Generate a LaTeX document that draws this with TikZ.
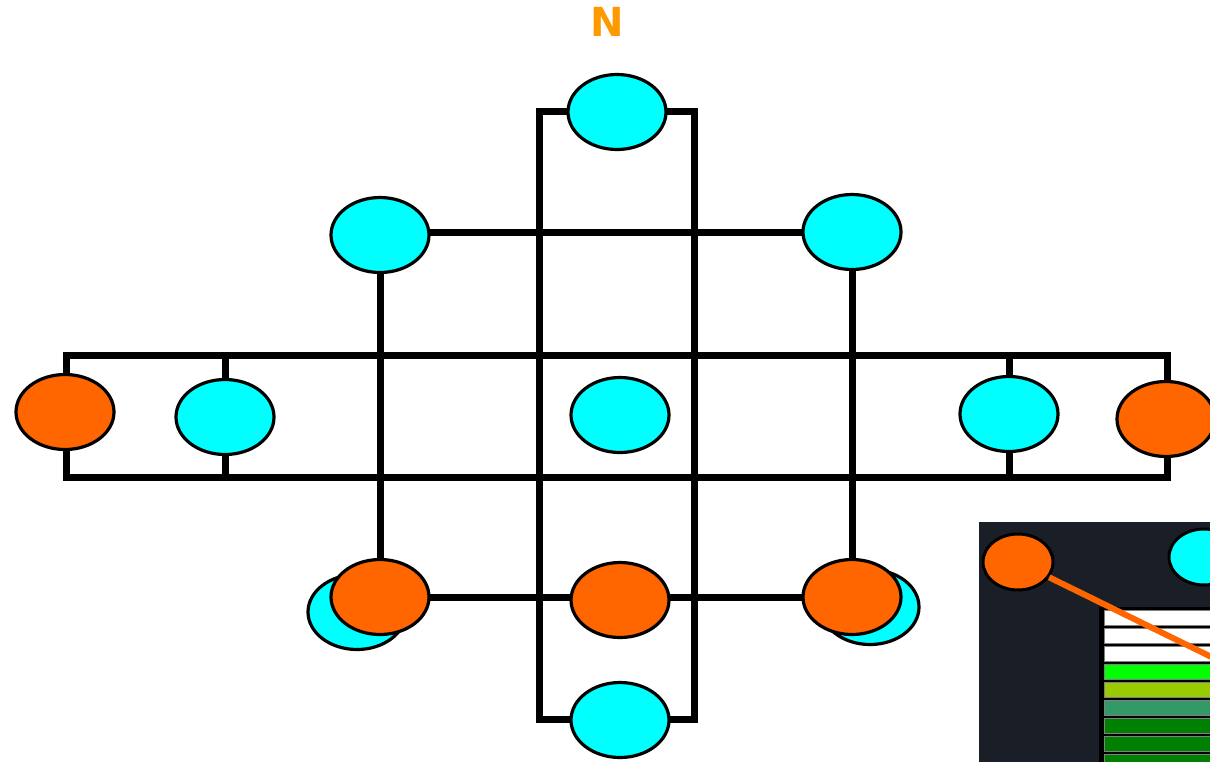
\documentclass[tikz,border=0pt]{standalone}
\usepackage{fontspec}
\setsansfont{DejaVu Sans}
\usetikzlibrary{shapes.geometric,backgrounds}
\definecolor{cy}{HTML}{00FFFF}
\definecolor{org}{HTML}{FF6600}
\definecolor{ntxt}{HTML}{FF9900}
\definecolor{inbg}{HTML}{1A1E26}
\definecolor{sgA}{HTML}{00FF00}
\definecolor{sgB}{HTML}{99CC00}
\definecolor{sgC}{HTML}{339966}
\definecolor{sgD}{HTML}{008000}
\begin{document}
\begin{tikzpicture}[x=1pt,y=-1pt,
  big/.style={ellipse, draw=black, line width=3.2pt, minimum width=98pt, minimum height=75pt, inner sep=0pt},
  cyanE/.style={big, fill=cy},
  orgE/.style={big, fill=org},
  smallE/.style={ellipse, draw=black, line width=3pt, minimum width=70pt, minimum height=56pt, inner sep=0pt},
  wire/.style={line width=7pt, draw=black},
  stripe/.style={line width=0.8pt, draw=gray}]
\useasboundingbox (0,0) rectangle (1210,761);
% label
\node[font=\sffamily\bfseries\fontsize{40}{40}\selectfont, text=ntxt] (N) at (607,22) {N};
% corner coordinates of loops
\coordinate (vtl) at (539,111);
\coordinate (vbr) at (694,719);
\coordinate (btl) at (66,355);
\coordinate (bbr) at (1167,477);
% ellipses
\node[cyanE] (T)   at (617,112) {};
\node[cyanE] (B)   at (620,720) {};
\node[cyanE] (UL)  at (380,235) {};
\node[cyanE] (UR)  at (852,232) {};
\node[cyanE] (C)   at (620,415) {};
\node[orgE]  (LO)  at (65,412) {};
\node[cyanE] (LC)  at (225,417) {};
\node[cyanE] (RC)  at (1009,414) {};
\node[orgE]  (RO)  at (1166,419) {};
\node[cyanE] (BLc) at (357,612) {};
\node[orgE]  (BLo) at (380,597) {};
\node[cyanE] (BRc) at (870,607) {};
\node[orgE]  (BRo) at (852,597) {};
\node[orgE]  (BCo) at (620,600) {};
% wires behind
\begin{scope}[on background layer]
  \draw[wire] (vtl) rectangle (vbr);
  \draw[wire] (btl) rectangle (bbr);
  \draw[wire] (btl -| LC.center) -- (bbr -| LC.center);
  \draw[wire] (btl -| RC.center) -- (bbr -| RC.center);
  \draw[wire] (UL.center |- UR.center) -- (UR.center);
  \draw[wire] (UL.center) -- (BLo.center);
  \draw[wire] (UR.center) -- (BRo.center);
  \draw[wire] (BLo.center) -- (BRo.center);
\end{scope}
% inset
\fill[inbg] (979,522) rectangle (1215,766);
\fill[black] (1099,607) rectangle (1215,766);
\foreach \i/\c in {0/white,1/white,2/white,3/sgA,4/sgB,5/sgC,6/sgD,7/sgD,8/sgD}{
  \filldraw[stripe, fill=\c] (1104.5,610+18*\i) rectangle (1216,625+18*\i);
}
\node[smallE, fill=org] (IO) at (1018,562) {};
\node[smallE, fill=cy] (IC) at (1204,557) {};
\coordinate (Iend) at (1240,671);
\draw[line width=6pt, draw=org] (IO) -- (Iend);
\end{tikzpicture}
\end{document}
